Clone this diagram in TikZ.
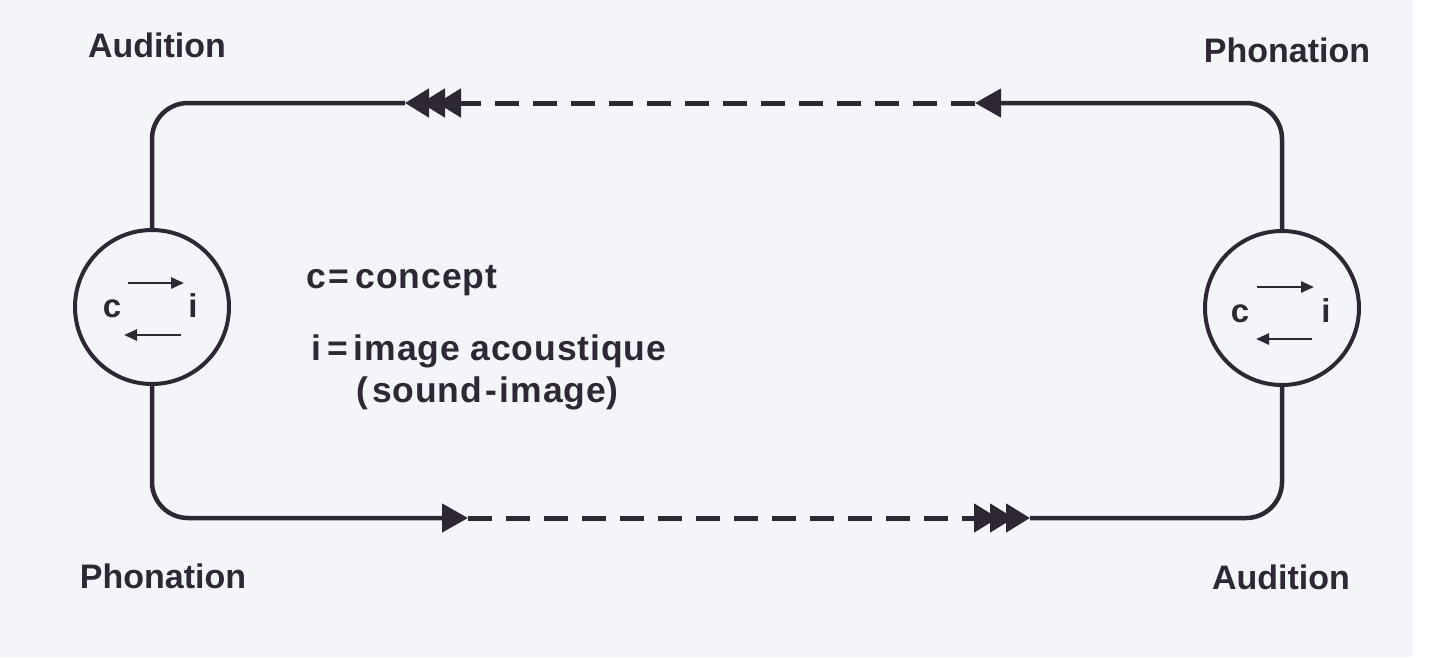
\documentclass[tikz,border=0pt]{standalone}
\usepackage{fontspec}
\setmainfont{Liberation Sans}
\newfontfamily\legfont[LetterSpace=2.5]{Liberation Sans}
\usetikzlibrary{arrows.meta}
\definecolor{ink}{RGB}{46,40,52}
\definecolor{paper}{RGB}{243,245,249}
\tikzset{
  lbl/.style={font=\fontsize{34}{40}\selectfont\bfseries, text=ink, anchor=base, inner sep=0pt},
  leg/.style={font=\legfont\fontsize{35.5}{42}\selectfont\bfseries, text=ink, anchor=base west, inner sep=0pt},
  let/.style={font=\fontsize{33}{38}\selectfont\bfseries, text=ink, anchor=base, inner sep=0pt},
  ring/.style={circle, draw=ink, line width=4pt, minimum size=154pt, inner sep=0pt},
  loopline/.style={draw=ink, line width=4.5pt, rounded corners=36pt},
  dashline/.style={draw=ink, line width=5pt, dash pattern=on 24pt off 14pt},
  onehead/.style={-{Triangle[length=26pt,width=28pt]}},
  threehead/.style={-{Triangle[length=24pt,width=28pt,sep=-8pt]Triangle[length=24pt,width=28pt,sep=-8pt]Triangle[length=24pt,width=28pt]}},
  small/.style={draw=ink, line width=2.6pt, -{Triangle[length=13pt,width=11pt]}}
}
\begin{document}
\begin{tikzpicture}[x=1pt,y=-1pt]
\useasboundingbox (0,0) rectangle (1440,657);
\fill[paper] (0,0) rectangle (1413,657);
\fill[white] (1413,0) rectangle (1440,657);

% circles
\node[ring] (L) at (152,307) {};
\node[ring] (R) at (1282,308) {};

% arrow points
\coordinate (t1) at (405,103);
\coordinate (t2) at (975,103);
\coordinate (b1) at (468,518);
\coordinate (b2) at (1030,518);

% top loop (right to left)
\draw[loopline, onehead] (R.north) |- (t2);
\draw[dashline, threehead] (t2) -- (t1);
\draw[loopline] (L.north) |- (t1);

% bottom loop (left to right)
\draw[loopline, onehead] (L.south) |- (b1);
\draw[dashline, threehead] (b1) -- (b2);
\draw[loopline] (R.south) |- (b2);

% inside left circle
\node[let] (Lc) at (112,317) {c};
\node[let] (Li) at (193,317) {i};
\coordinate (La1) at (128,283); \coordinate (La2) at (184,283);
\coordinate (Lb1) at (181,335); \coordinate (Lb2) at (124,335);
\draw[small] (La1) -- (La2);
\draw[small] (Lb1) -- (Lb2);

% inside right circle
\node[let] (Rc) at (1240,322) {c};
\node[let] (Ri) at (1326,322) {i};
\coordinate (Ra1) at (1257,287); \coordinate (Ra2) at (1314,287);
\coordinate (Rb1) at (1312,339); \coordinate (Rb2) at (1256,339);
\draw[small] (Ra1) -- (Ra2);
\draw[small] (Rb1) -- (Rb2);

% labels
\node[lbl] (a1) at (157,57) {Audition};
\node[lbl] (p1) at (1287,62) {Phonation};
\node[lbl] (p2) at (163,588) {Phonation};
\node[lbl] (a2) at (1281,589) {Audition};

% legend
\node[leg] (lc) at (306,288) {c{\kern3pt}={\kern6pt}concept};
\node[leg] (li) at (311,360) {i{\kern6pt}={\kern6pt}image acoustique};
\node[leg] (ls) at (356,402) {({\kern4pt}sound{\kern3pt}-{\kern3pt}image)};
\end{tikzpicture}
\end{document}
